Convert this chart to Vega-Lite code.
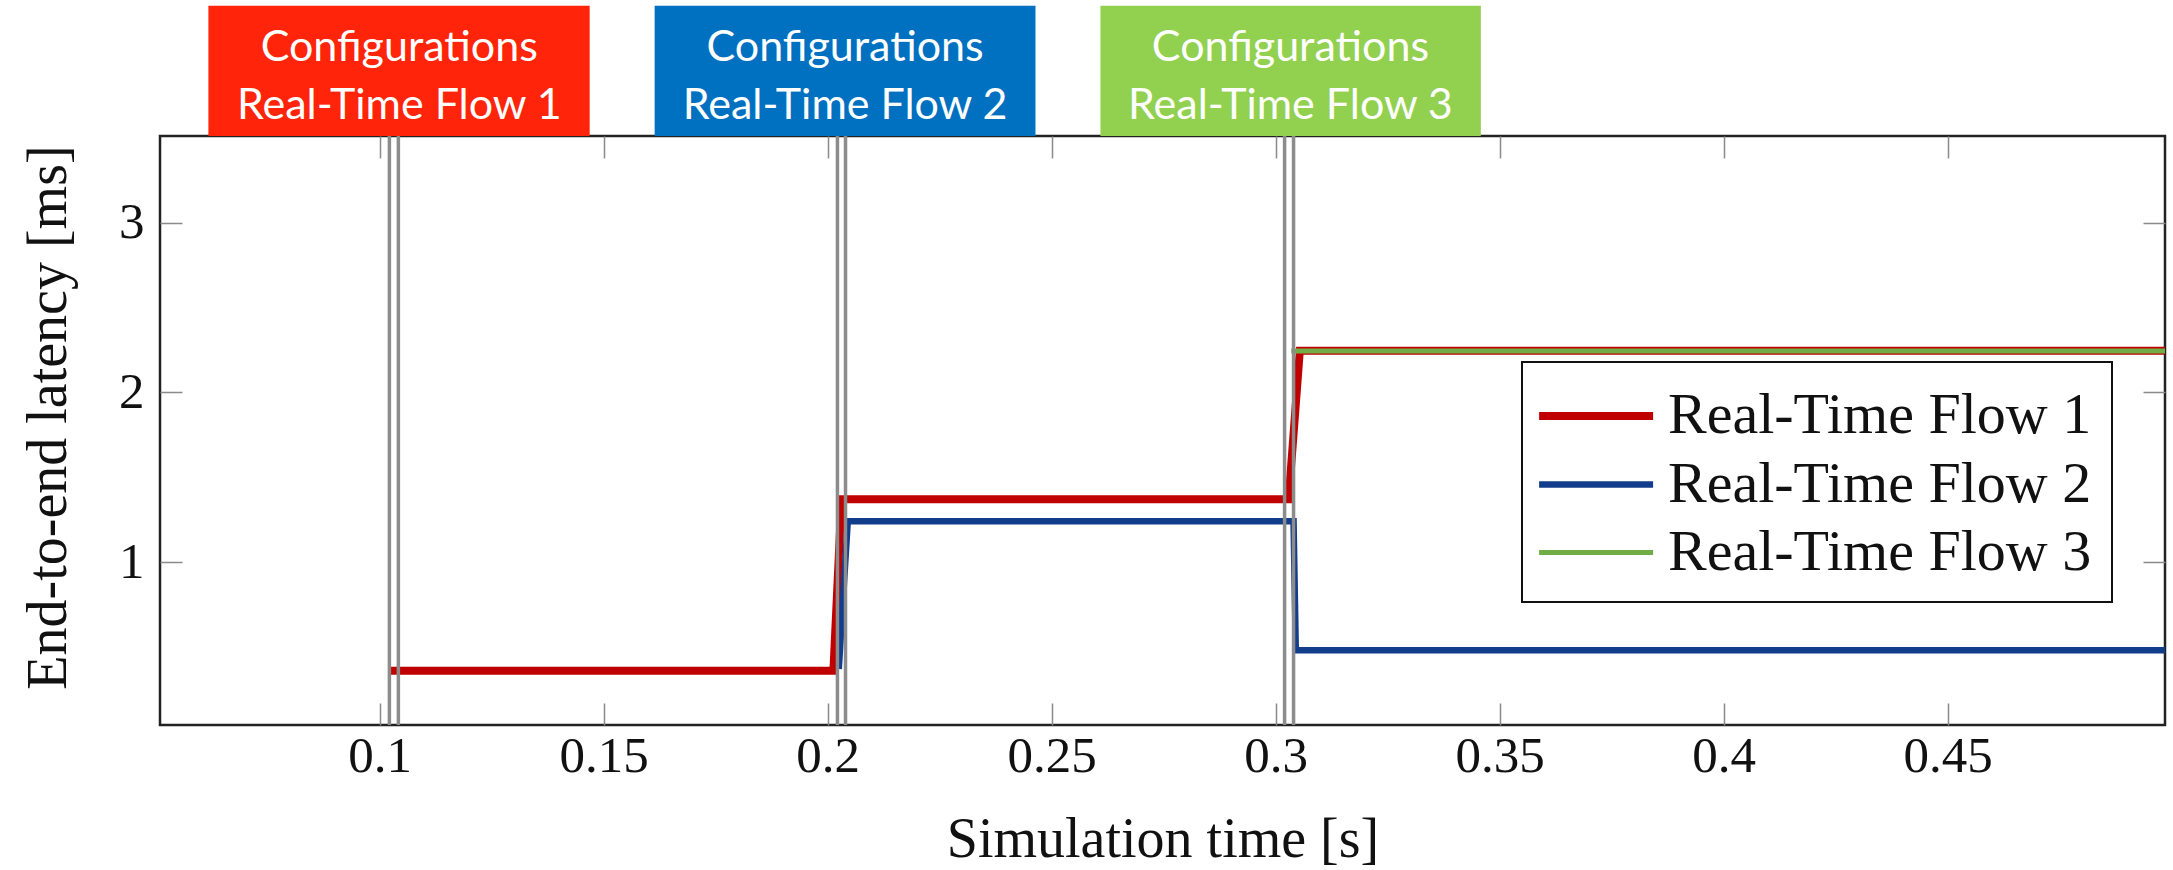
{
  "$schema": "https://vega.github.io/schema/vega-lite/v6.json",
  "width": 2005,
  "height": 589,
  "autosize": {"type": "none"},
  "padding": {"left": 160, "top": 136, "right": 8, "bottom": 145},
  "background": "white",
  "config": {
    "view": {"stroke": "#222222", "strokeWidth": 2.5},
    "axis": {
      "domain": false,
      "grid": false,
      "tickColor": "#8a8a8a",
      "tickWidth": 1.5,
      "tickSize": -22,
      "labelFont": "Liberation Serif",
      "labelFontSize": 51,
      "labelColor": "#111111",
      "titleFont": "Liberation Serif",
      "titleFontSize": 56,
      "titleFontWeight": "normal",
      "titleColor": "#111111"
    },
    "legend": {
      "orient": "none",
      "legendX": 1362,
      "legendY": 226,
      "fillColor": "white",
      "strokeColor": "#111111",
      "strokeWidth": 2,
      "padding": 20,
      "symbolType": "M-1.23,0H2.57",
      "symbolSize": 3600,
      "symbolStrokeWidth": 7.5,
      "labelFont": "Liberation Serif",
      "labelFontSize": 58,
      "labelColor": "#111111",
      "labelOffset": 58,
      "labelLimit": 800,
      "rowPadding": 6
    }
  },
  "datasets": {
    "series": [
      {"flow": "Real-Time Flow 1", "t": 0.1025, "latency": 0.36},
      {"flow": "Real-Time Flow 1", "t": 0.2013, "latency": 0.36},
      {"flow": "Real-Time Flow 1", "t": 0.2031, "latency": 1.37},
      {"flow": "Real-Time Flow 1", "t": 0.3029, "latency": 1.37},
      {"flow": "Real-Time Flow 1", "t": 0.3054, "latency": 2.245},
      {"flow": "Real-Time Flow 1", "t": 0.4985, "latency": 2.245},
      {"flow": "Real-Time Flow 2", "t": 0.2025, "latency": 0.37},
      {"flow": "Real-Time Flow 2", "t": 0.2045, "latency": 1.24},
      {"flow": "Real-Time Flow 2", "t": 0.304, "latency": 1.24},
      {"flow": "Real-Time Flow 2", "t": 0.3045, "latency": 0.48},
      {"flow": "Real-Time Flow 2", "t": 0.4985, "latency": 0.48},
      {"flow": "Real-Time Flow 3", "t": 0.3035, "latency": 2.243},
      {"flow": "Real-Time Flow 3", "t": 0.4985, "latency": 2.243}
    ],
    "markers": [
      {"t": 0.1022}, {"t": 0.1042},
      {"t": 0.2022}, {"t": 0.204},
      {"t": 0.302}, {"t": 0.304}
    ],
    "configs": [
      {"flow": "Real-Time Flow 1", "start": 0.0618, "end": 0.1469, "mid": 0.1044, "low": 3.51, "high": 4.277, "ymid": 4.03, "label": "Configurations\nReal-Time Flow 1"},
      {"flow": "Real-Time Flow 2", "start": 0.1614, "end": 0.2464, "mid": 0.2039, "low": 3.51, "high": 4.277, "ymid": 4.03, "label": "Configurations\nReal-Time Flow 2"},
      {"flow": "Real-Time Flow 3", "start": 0.2609, "end": 0.3458, "mid": 0.3033, "low": 3.51, "high": 4.277, "ymid": 4.03, "label": "Configurations\nReal-Time Flow 3"}
    ]
  },
  "resolve": {"axis": {"x": "independent", "y": "independent"}},
  "layer": [
    {
      "data": {"name": "series"},
      "mark": {"type": "line", "interpolate": "linear"},
      "encoding": {
        "x": {
          "field": "t", "type": "quantitative",
          "scale": {"domain": [0.051, 0.4985], "nice": false, "zero": false},
          "axis": {"orient": "bottom", "values": [0.1, 0.15, 0.2, 0.25, 0.3, 0.35, 0.4, 0.45], "format": "~g", "title": "Simulation time [s]", "labelPadding": 28, "titlePadding": 31}
        },
        "y": {
          "field": "latency", "type": "quantitative",
          "scale": {"domain": [0.04, 3.51], "nice": false, "zero": false},
          "axis": {"orient": "left", "values": [1, 2, 3], "format": "d", "title": "End-to-end latency [ms]", "labelPadding": 38, "titleX": -112, "titleY": 281, "titleBaseline": "middle", "titleAlign": "center", "titleAngle": -90}
        },
        "color": {
          "field": "flow", "type": "nominal",
          "scale": {"domain": ["Real-Time Flow 1", "Real-Time Flow 2", "Real-Time Flow 3"], "range": ["#C00000", "#123C8C", "#70AD47"]},
          "legend": {"title": null}
        },
        "strokeWidth": {
          "field": "flow", "type": "nominal",
          "scale": {"domain": ["Real-Time Flow 1", "Real-Time Flow 2", "Real-Time Flow 3"], "range": [8, 5, 7]},
          "legend": null
        }
      }
    },
    {
      "data": {"name": "markers"},
      "mark": {"type": "rule", "color": "#8c8c8c", "strokeWidth": 3.5},
      "encoding": {
        "x": {"field": "t", "type": "quantitative", "axis": {"orient": "top", "values": [0.1, 0.15, 0.2, 0.25, 0.3, 0.35, 0.4, 0.45], "labels": false, "title": null}}
      }
    },
    {
      "data": {"name": "configs"},
      "mark": {"type": "rect", "clip": false},
      "encoding": {
        "x": {"field": "start", "type": "quantitative", "axis": null},
        "x2": {"field": "end"},
        "y": {"field": "low", "type": "quantitative", "axis": {"orient": "right", "values": [1, 2, 3], "labels": false, "title": null}},
        "y2": {"field": "high"},
        "fill": {
          "field": "flow", "type": "nominal",
          "scale": {"domain": ["Real-Time Flow 1", "Real-Time Flow 2", "Real-Time Flow 3"], "range": ["#FF240A", "#0070C0", "#92D050"]},
          "legend": null
        }
      }
    },
    {
      "data": {"name": "configs"},
      "mark": {"type": "text", "clip": false, "font": "Lato", "fontSize": 43, "color": "white", "align": "center", "baseline": "middle", "lineBreak": "\n", "lineHeight": 58},
      "encoding": {
        "x": {"field": "mid", "type": "quantitative", "axis": null},
        "y": {"field": "ymid", "type": "quantitative", "axis": null},
        "text": {"field": "label"}
      }
    }
  ]
}
